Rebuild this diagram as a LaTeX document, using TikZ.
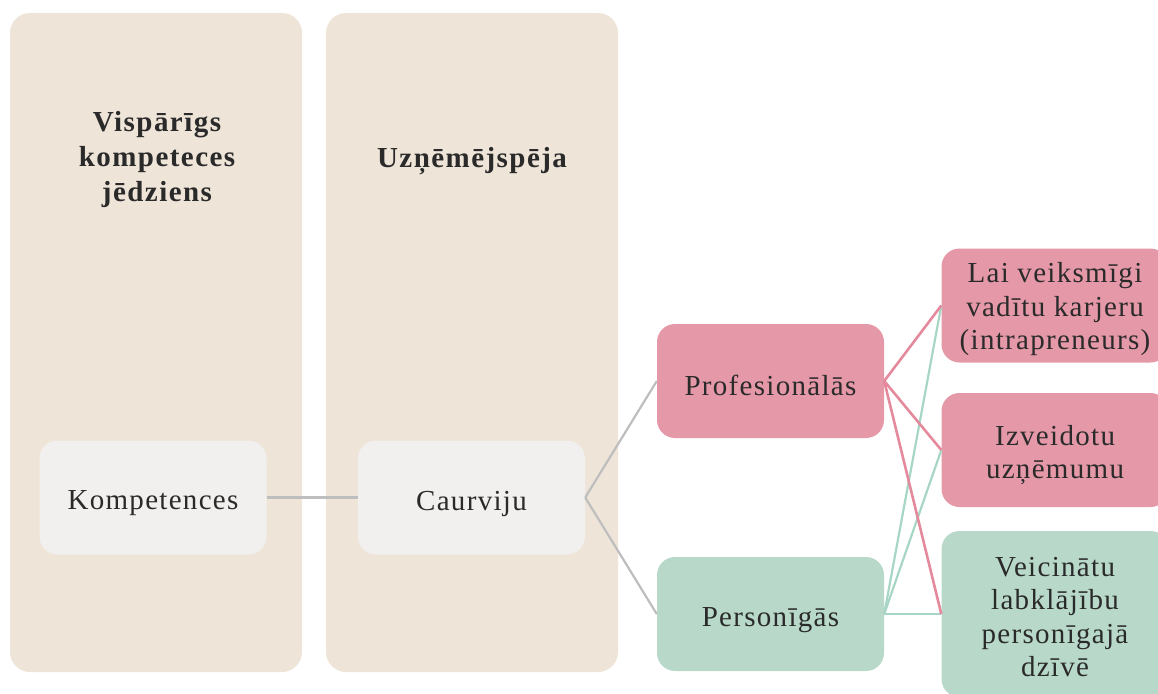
\documentclass[tikz,border=0pt]{standalone}
\usepackage{fontspec}
\setmainfont{Liberation Serif}
\begin{document}
\definecolor{colbg}{HTML}{EEE4D8}
\definecolor{lightbox}{HTML}{F2F0EE}
\definecolor{pinkbox}{HTML}{E599A8}
\definecolor{greenbox}{HTML}{B8D9CA}
\definecolor{pinkline}{HTML}{E48A9C}
\definecolor{greenline}{HTML}{A8D6C4}
\definecolor{greyline}{HTML}{BEBEBE}
\definecolor{ink}{HTML}{2A2A2A}
\begin{tikzpicture}[x=1pt,y=-1pt,
  column/.style={fill=colbg, rounded corners=20pt, minimum width=292pt, minimum height=659pt, inner sep=0pt},
  heading/.style={text=ink, align=center, font=\fontsize{29}{35}\selectfont\bfseries\addfontfeature{LetterSpace=5}},
  itembox/.style={rounded corners=18pt, minimum width=227pt, minimum height=114pt, inner sep=0pt},
  itemtext/.style={text=ink, align=center, inner sep=0pt, font=\fontsize{29}{33.5}\selectfont\addfontfeature{LetterSpace=4.5}},
  neutral/.style={itembox, fill=lightbox},
  pinkitem/.style={itembox, fill=pinkbox},
  greenitem/.style={itembox, fill=greenbox},
  greylink/.style={draw=greyline, line width=2.2pt},
  pinklink/.style={draw=pinkline, line width=2.6pt},
  greenlink/.style={draw=greenline, line width=2.2pt}]
\useasboundingbox (0,0) rectangle (1158,693);
\begin{scope}
\clip (0,0) rectangle (1158,693);

% background columns with their headings
\node[column] (colA) at (156,342.5) {};
\node[column] (colB) at (472,342.5) {};
\node[heading] (headA) at (157,160) {Vispārīgs\\kompeteces\\jēdziens};
\node[heading] (headB) at (472,161) {Uzņēmējspēja};

% boxes
\node[neutral] (komp) at (153,497.5) {};
\node[neutral] (caur) at (471.5,497.5) {};
\node[pinkitem] (prof) at (770.5,381) {};
\node[greenitem] (pers) at (770.5,614) {};
\node[pinkitem] (lai) at (1055,305.5) {};
\node[pinkitem] (izv) at (1055,450) {};
\node[greenitem, minimum height=166pt] (veic) at (1055,614) {};

% connectors: green under pink
\path[greylink] (komp.east) -- (caur.west);
\path[greylink] (caur.east) -- (prof.west);
\path[greylink] (caur.east) -- (pers.west);
\path[greenlink] (pers.east) -- (lai.west);
\path[greenlink] (pers.east) -- (izv.west);
\path[greenlink] (pers.east) -- (veic.west);
\path[pinklink] (prof.east) -- (lai.west);
\path[pinklink] (prof.east) -- (izv.west);
\path[pinklink] (prof.east) -- (veic.west);

% box labels
\node[itemtext] (komp-t) at ([yshift=-6pt]komp.center) {Kompetences};
\node[itemtext] (caur-t) at ([yshift=-6pt]caur.center) {Caurviju};
\node[itemtext] (prof-t) at ([yshift=-4pt]prof.center) {Profesionālās};
\node[itemtext] (pers-t) at ([yshift=-6pt]pers.center) {Personīgās};
\node[itemtext] (lai-t) at ([yshift=-4pt]lai.center) {Lai veiksmīgi\\vadītu karjeru\\(intrapreneurs)};
\node[itemtext] (izv-t) at ([yshift=-5pt]izv.center) {Izveidotu\\uzņēmumu};
\node[itemtext] (veic-t) at ([yshift=-3pt]veic.center) {Veicinātu\\labklājību\\personīgajā\\dzīvē};
\end{scope}
\end{tikzpicture}
\end{document}
